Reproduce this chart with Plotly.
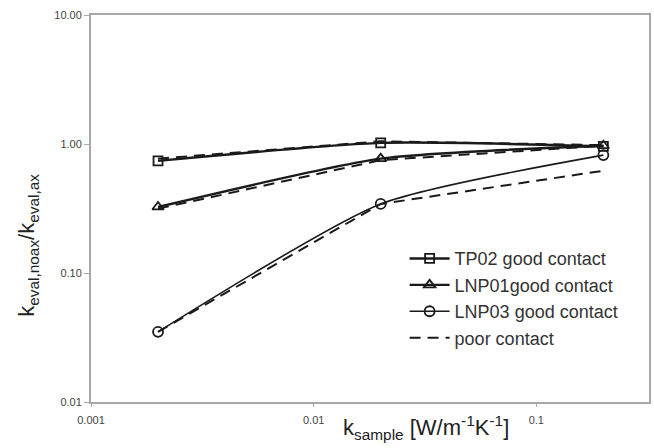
import plotly.graph_objects as go

# Sample thermal conductivity (W/m-1 K-1) at which each probe was evaluated
k_sample = [0.002, 0.02, 0.2]

# Ratio k_eval,noax / k_eval,ax for good thermal contact
tp02_good = [0.74, 1.02, 0.96]
lnp01_good = [0.325, 0.77, 0.97]
lnp03_good = [0.035, 0.343, 0.82]

# Same probes with poor thermal contact
tp02_poor = [0.77, 1.05, 0.98]
lnp01_poor = [0.315, 0.75, 0.97]
lnp03_poor = [0.035, 0.343, 0.62]

y_ticks = [0.01, 0.1, 1, 10]
y_ticktext = ["0.01", "0.10", "1.00", "10.00"]
x_ticks = [0.001, 0.01, 0.1]
x_ticktext = ["0.001", "0.01", "0.1"]

INK = "#1a1a1a"
AXIS = "#a8a8a8"

fig = go.Figure()

good_series = [
    ("TP02 good contact", "tp02", tp02_good, "square-open", 9, 2.4),
    ("LNP01good contact", "lnp01", lnp01_good, "triangle-up-open", 10, 2.4),
    ("LNP03 good contact", "lnp03", lnp03_good, "circle-open", 10, 1.6),
]
for name, grp, ys, sym, size, lw in good_series:
    fig.add_trace(go.Scatter(
        x=k_sample, y=ys, name=name, legendgroup=grp, mode="lines+markers",
        line=dict(color=INK, width=lw, shape="spline", smoothing=0.6),
        marker=dict(symbol=sym, size=size, color=INK,
                    line=dict(width=1.8, color=INK)),
    ))

for i, ys in enumerate([tp02_poor, lnp01_poor, lnp03_poor]):
    fig.add_trace(go.Scatter(
        x=k_sample, y=ys, name="poor contact", mode="lines",
        legendgroup="poor", showlegend=(i == 0),
        line=dict(color=INK, width=2, dash="11px,7px"),
    ))

fig.update_layout(
    width=654, height=448,
    margin=dict(l=91, r=3, t=15, b=46),
    paper_bgcolor="white", plot_bgcolor="white",
    font=dict(family="Liberation Sans, Arial, sans-serif", color="#333"),
    showlegend=True,
    legend=dict(
        x=0.562, y=0.418, xanchor="left", yanchor="top",
        bgcolor="rgba(0,0,0,0)", font=dict(size=18, color="#333"),
        tracegroupgap=0, itemwidth=40,
    ),
    xaxis=dict(
        type="log", range=[-3, -0.494],
        tickvals=x_ticks, ticktext=x_ticktext,
        tickfont=dict(size=11, color="#444"),
        ticks="outside", ticklen=3, tickcolor=AXIS,
        ticklabelstandoff=4,
        showline=True, linecolor=AXIS, linewidth=2, mirror=True,
        showgrid=False, zeroline=False,
    ),
    yaxis=dict(
        type="log", range=[-2, 1],
        tickvals=y_ticks, ticktext=y_ticktext,
        tickfont=dict(size=11, color="#444"),
        ticks="outside", ticklen=5, tickcolor=AXIS,
        showline=True, linecolor=AXIS, linewidth=2, mirror=True,
        showgrid=False, zeroline=False,
    ),
    annotations=[
        dict(
            text="k<sub>sample</sub> [W/m<sup>-1</sup>K<sup>-1</sup>]",
            xref="paper", yref="paper", x=0.60, y=-0.11,
            xanchor="center", yanchor="bottom", showarrow=False,
            font=dict(size=22, color="#222"),
        ),
        dict(
            text="k<sub>eval,noax</sub>/k<sub>eval,ax</sub>",
            xref="paper", yref="paper", x=-0.112, y=0.405,
            xanchor="center", yanchor="middle", showarrow=False,
            textangle=-90, font=dict(size=22, color="#222"),
        ),
    ],
)

fig.write_html("out.html")
